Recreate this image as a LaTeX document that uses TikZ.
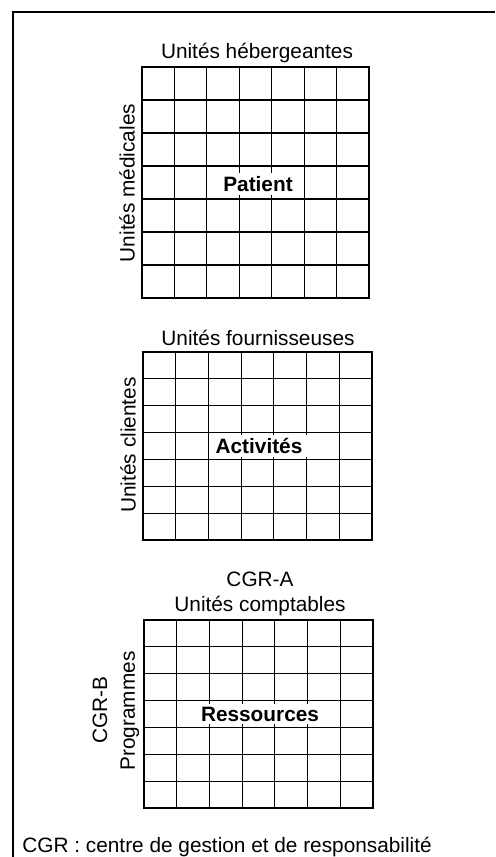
\documentclass[tikz,border=0pt]{standalone}
\usepackage{fontspec}
\setmainfont{Liberation Sans}
\newcommand\matgrid[4]{%
  \foreach \k in {1,...,6}{%
    \draw[cellline] ({#1+(#3-#1)*\k/7},#2) -- ({#1+(#3-#1)*\k/7},#4);
    \draw[cellline] (#1,{#2+(#4-#2)*\k/7}) -- (#3,{#2+(#4-#2)*\k/7});
  }%
  \draw[gridborder] (#1,#2) rectangle (#3,#4);
}
\begin{document}
\begin{tikzpicture}[x=0.5pt,y=-0.5pt,
  frameline/.style={line width=1pt},
  cellline/.style={line width=0.55pt},
  gridborder/.style={line width=1.4pt},
  lbl/.style={inner sep=0pt,font=\fontsize{10.4pt}{12pt}\selectfont},
  vlbl/.style={lbl,rotate=90},
  celltitle/.style={fill=white,inner xsep=3pt,inner ysep=1.5pt,font=\fontsize{10.4pt}{12pt}\selectfont\bfseries}]
\useasboundingbox (0,0) rectangle (495,857);
\fill[white] (0,0) rectangle (495,857);
\coordinate (fb) at (13,857);
\coordinate (fc) at (13,12);
\coordinate (fr) at (495,12);
\draw[frameline] (fb) -- (fc) -- (fr);
% grid 1
\matgrid{142}{67}{369}{298}
\node[lbl] (t1) at (257,53) {Unités hébergeantes};
\node[vlbl] (v1) at (127,183) {Unités médicales};
\node[celltitle] (c1) at (258,184) {Patient};
% grid 2
\matgrid{143}{352}{372}{540}
\node[lbl] (t2) at (258,338) {Unités fournisseuses};
\node[vlbl] (v2) at (128,445) {Unités clientes};
\node[celltitle] (c2) at (259,446) {Activités};
% grid 3
\matgrid{144}{620}{373}{808}
\node[lbl] (t3a) at (260,579) {CGR-A};
\node[lbl] (t3) at (260,606) {Unités comptables};
\node[vlbl] (v3a) at (100,710) {CGR-B};
\node[vlbl] (v3) at (130,711) {Programmes};
\node[celltitle] (c3) at (260,714) {Ressources};
% footnote
\node[lbl,anchor=base west] (fn) at (22,852) {CGR : centre de gestion et de responsabilité};
\end{tikzpicture}
\end{document}
